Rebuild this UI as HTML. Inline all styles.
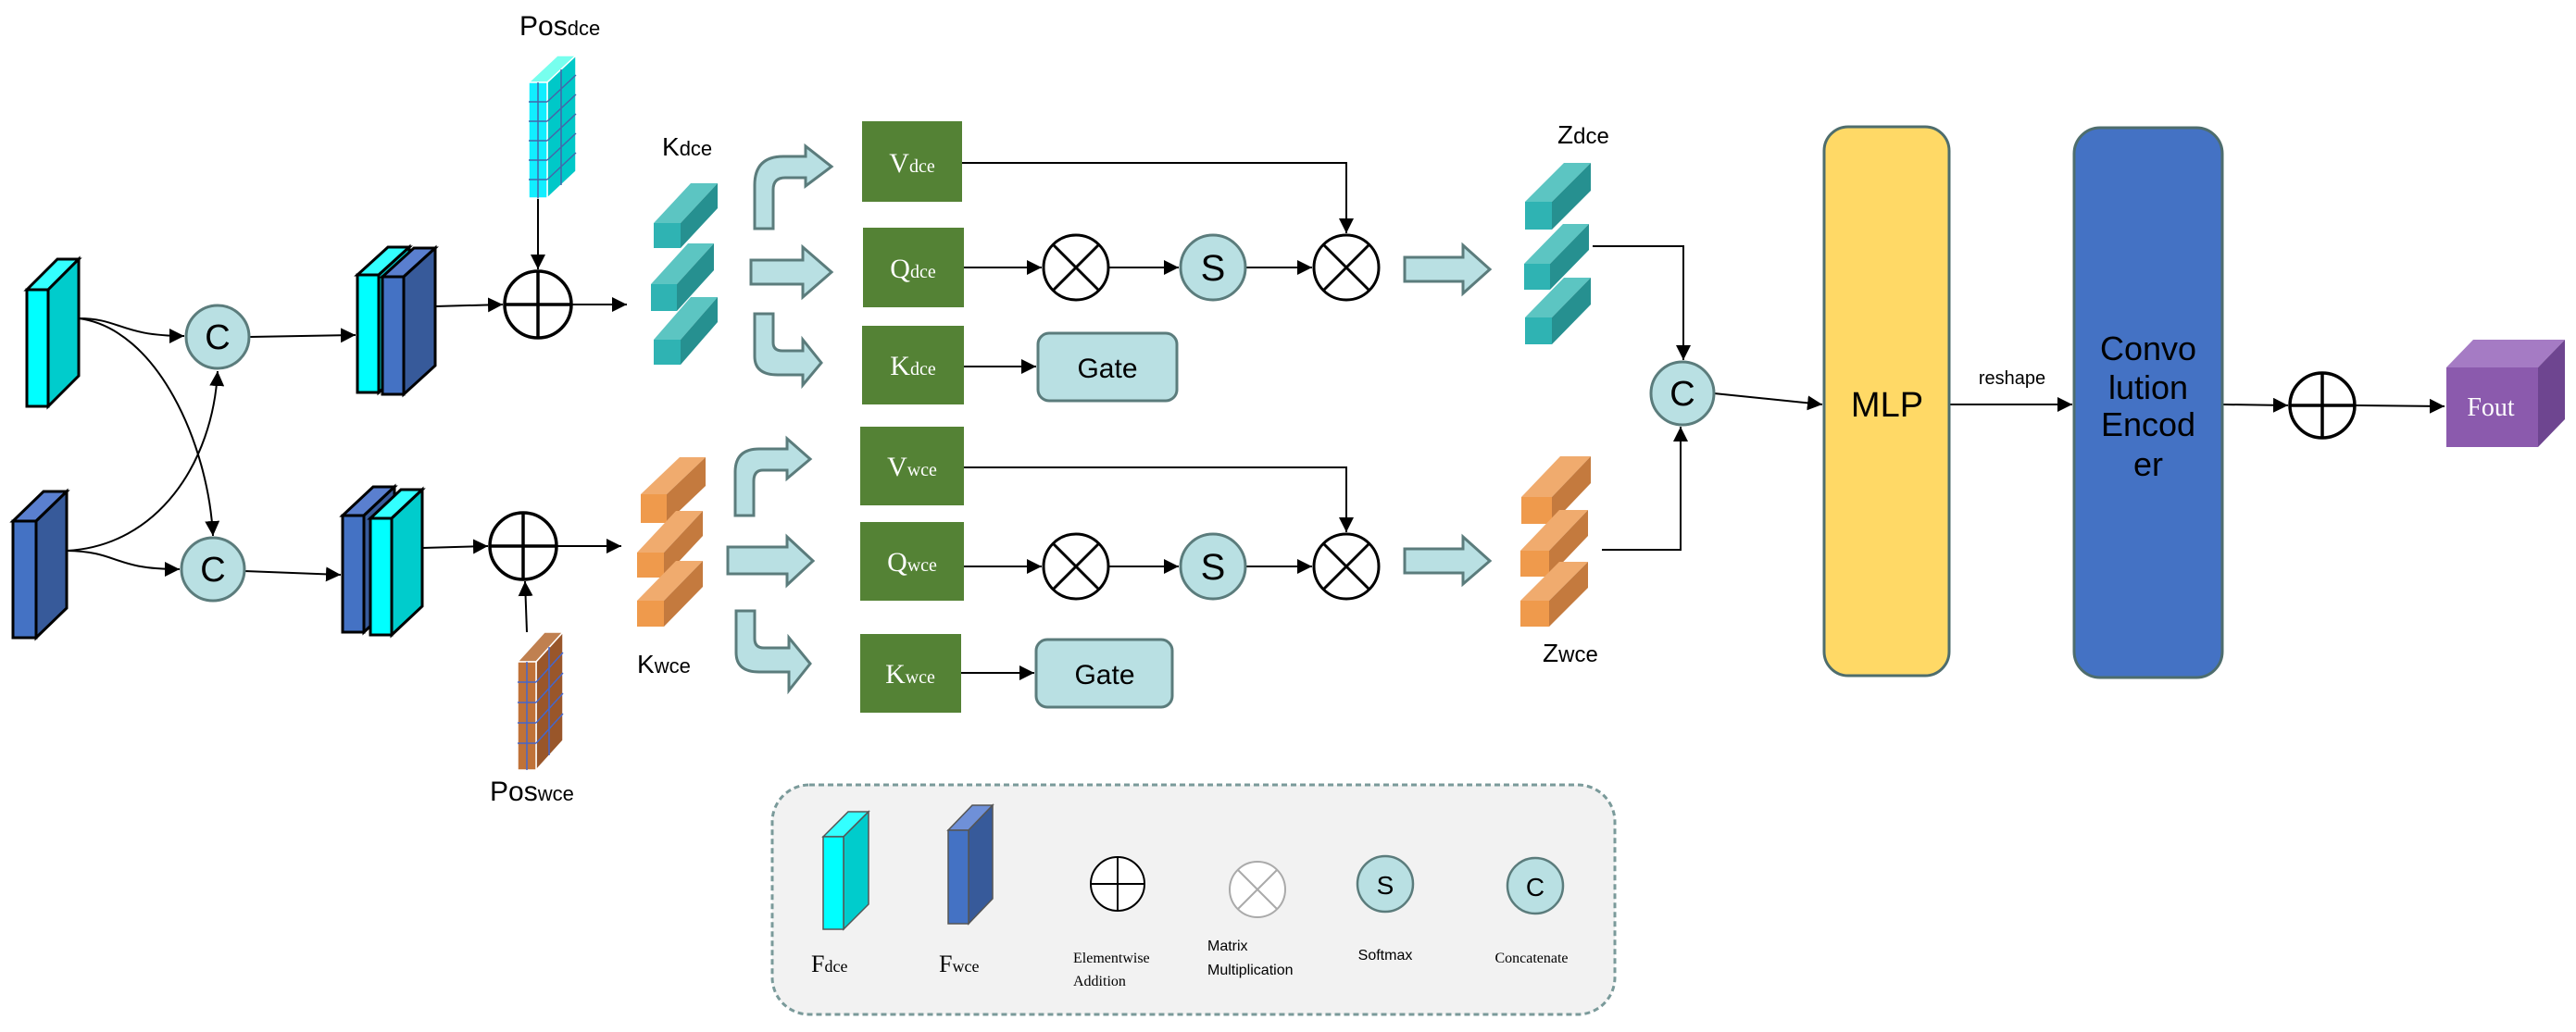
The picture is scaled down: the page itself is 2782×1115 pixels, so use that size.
<!DOCTYPE html>
<html><head><meta charset="utf-8"><style>
html,body{margin:0;padding:0;background:#fff;}
svg{display:block;}
.s{font-family:"Liberation Sans",sans-serif;}
.r{font-family:"Liberation Serif",serif;}
</style></head><body>
<svg width="2782" height="1115" viewBox="0 0 2782 1115" xmlns="http://www.w3.org/2000/svg">
<defs>
<marker id="a" viewBox="0 0 10 10" refX="10" refY="5" markerWidth="10" markerHeight="10" markerUnits="userSpaceOnUse" orient="auto"><path d="M0,0L10,5L0,10z" fill="#000"/></marker>
<marker id="b" viewBox="0 0 10 10" refX="10" refY="5" markerWidth="16" markerHeight="16" markerUnits="userSpaceOnUse" orient="auto"><path d="M0,0L10,5L0,10z" fill="#000"/></marker>
</defs>

<!-- Input blocks -->
<g stroke="#000" stroke-width="3">
<polygon points="29,313 52,313 85,280 62,280" fill="#3ff"/>
<polygon points="52,313 85,280 85,406 52,439" fill="#00cccc"/>
<rect x="29" y="313" width="23" height="126" fill="#0ff"/>
<polygon points="14,563 39,563 72,531 47,531" fill="#5a7fcf"/>
<polygon points="39,563 72,531 72,657 39,689" fill="#375a9a"/>
<rect x="14" y="563" width="25" height="126" fill="#4472c4"/>
</g>

<!-- curves -->
<g fill="none" stroke="#000" stroke-width="2">
<path d="M85,344 C130,344 130,363 199,363" marker-end="url(#b)"/>
<path d="M85,344 C170,355 225,480 230,579" marker-end="url(#b)"/>
<path d="M72,595 C170,590 230,500 235,401" marker-end="url(#b)"/>
<path d="M72,595 C130,596 120,615 194,615" marker-end="url(#b)"/>
<path d="M269,364 L384,362" marker-end="url(#b)"/>
<path d="M264,617 L368,621" marker-end="url(#b)"/>
<path d="M470,331 L543,329" marker-end="url(#b)"/>
<path d="M617,329 L677,329" marker-end="url(#b)"/>
<path d="M581,214 L581,291" marker-end="url(#b)"/>
<path d="M456,592 L527,590" marker-end="url(#b)"/>
<path d="M601,590 L671,590" marker-end="url(#b)"/>
<path d="M569,683 L567,628" marker-end="url(#b)"/>
</g>
<g fill="#b9e0e3" stroke="#5b7c7c" stroke-width="3">
<circle cx="235" cy="364" r="34"/><circle cx="230" cy="615" r="34"/>
</g>
<text x="235" y="377" class="s" font-size="38" text-anchor="middle">C</text>
<text x="230" y="628" class="s" font-size="38" text-anchor="middle">C</text>

<!-- stacked top -->
<g stroke="#000" stroke-width="3">
<polygon points="386,297 409,297 442,267 419,267" fill="#3ff"/>
<polygon points="409,297 442,267 442,394 409,424" fill="#00cccc"/>
<rect x="386" y="297" width="23" height="127" fill="#0ff"/>
<polygon points="413,299 436,299 470,268 447,268" fill="#5a7fcf"/>
<polygon points="436,299 470,268 470,395 436,426" fill="#375a9a"/>
<rect x="413" y="299" width="23" height="127" fill="#4472c4"/>
<!-- stacked bottom -->
<polygon points="370,557 393,557 426,526 403,526" fill="#5a7fcf"/>
<polygon points="393,557 426,526 426,652 393,683" fill="#375a9a"/>
<rect x="370" y="557" width="23" height="126" fill="#4472c4"/>
<polygon points="400,560 423,560 456,529 433,529" fill="#3ff"/>
<polygon points="423,560 456,529 456,655 423,686" fill="#00cccc"/>
<rect x="400" y="560" width="23" height="126" fill="#0ff"/>
</g>

<!-- plus circles -->
<g fill="#fff" stroke="#000" stroke-width="3.5">
<circle cx="581" cy="329" r="36"/><path d="M545,329H617M581,293V365"/>
<circle cx="565" cy="590" r="36"/><path d="M529,590H601M565,554V626"/>
</g>

<!-- Pos dce -->
<g stroke-width="1.5">
<polygon points="571,89 591,89 622,60 602,60" fill="#7fe" stroke="#fff"/>
<polygon points="591,89 622,60 622,185 591,214" fill="#00c8c8" stroke="#fff"/>
<rect x="571" y="89" width="20" height="125" fill="#1ef" stroke="#fff"/>
<g stroke="#4466aa"><path d="M581,89V214M571,110H591M571,131H591M571,152H591M571,173H591M571,194H591M606,75V200M591,110L622,81M591,131L622,102M591,152L622,123M591,173L622,144M591,194L622,165"/></g>
</g>
<text x="561" y="38" class="s" font-size="30">Pos<tspan font-size="22">dce</tspan></text>
<!-- Pos wce -->
<g stroke-width="1.5">
<polygon points="559,715 579,715 608,683 588,683" fill="#c08050" stroke="#fff"/>
<polygon points="579,715 608,683 608,800 579,832" fill="#99562a" stroke="#fff"/>
<rect x="559" y="715" width="20" height="117" fill="#c07238" stroke="#fff"/>
<g stroke="#4466cc"><path d="M569,715V832M559,737H579M559,759H579M559,781H579M559,803H579M593,699V816M579,737L608,705M579,759L608,727M579,781L608,749M579,803L608,771"/></g>
</g>
<text x="529" y="865" class="s" font-size="30">Pos<tspan font-size="22">wce</tspan></text>

<!-- K dce bars -->
<g>
<polygon points="706,241 735,241 775,198 746,198" fill="#5cc5c2"/><polygon points="735,241 775,198 775,225 735,268" fill="#269090"/><rect x="706" y="241" width="29" height="27" fill="#2fb3b3"/>
<polygon points="703,307 731,307 771,263 743,263" fill="#5cc5c2"/><polygon points="731,307 771,263 771,292 731,336" fill="#269090"/><rect x="703" y="307" width="28" height="29" fill="#2fb3b3"/>
<polygon points="706,367 735,367 775,321 746,321" fill="#5cc5c2"/><polygon points="735,367 775,321 775,348 735,394" fill="#269090"/><rect x="706" y="367" width="29" height="27" fill="#2fb3b3"/>
</g>
<text x="715" y="168" class="s" font-size="28">K<tspan font-size="22">dce</tspan></text>
<!-- K wce bars -->
<g>
<polygon points="692,534 720,534 762,494 734,494" fill="#f0ab6e"/><polygon points="720,534 762,494 762,525 720,565" fill="#c47a3e"/><rect x="692" y="534" width="28" height="31" fill="#ef9a4c"/>
<polygon points="688,597 717,597 759,552 730,552" fill="#f0ab6e"/><polygon points="717,597 759,552 759,579 717,624" fill="#c47a3e"/><rect x="688" y="597" width="29" height="27" fill="#ef9a4c"/>
<polygon points="688,649 717,649 759,606 730,606" fill="#f0ab6e"/><polygon points="717,649 759,606 759,634 717,677" fill="#c47a3e"/><rect x="688" y="649" width="29" height="28" fill="#ef9a4c"/>
</g>
<text x="688" y="727" class="s" font-size="28">K<tspan font-size="22">wce</tspan></text>

<!-- block arrows -->
<g fill="#b9e0e3" stroke="#5b7c7c" stroke-width="3" stroke-linejoin="miter">
<path d="M815,247 V200 Q815,169 846,169 H870 V158 L898,180 L870,201 V192 H848 Q835,192 835,205 V247 Z"/>
<path d="M811,281 H867 V267 L898,294 L867,321 V307 H811 Z"/>
<path d="M815,339 V385 Q815,405 840,405 H867 V416 L887,392 L867,367 V379 H845 Q835,379 835,370 V339 Z"/>
<path d="M794,557 V510 Q794,485 820,485 H850 V474 L875,496 L850,517 V508 H824 Q814,508 814,520 V557 Z"/>
<path d="M786,591 H850 V580 L878,606 L850,632 V620 H786 Z"/>
<path d="M795,660 V705 Q795,726 820,726 H852 V746 L875,717 L852,689 V700 H825 Q815,700 815,690 V660 Z"/>
<path d="M1517,278 H1580 V265 L1609,291 L1580,317 V304 H1517 Z"/>
<path d="M1517,593 H1580 V580 L1609,606 L1580,631 V619 H1517 Z"/>
</g>

<!-- green boxes -->
<g fill="#548235">
<rect x="931" y="131" width="108" height="87"/><rect x="932" y="246" width="109" height="86"/><rect x="931" y="352" width="110" height="85"/>
<rect x="929" y="461" width="112" height="85"/><rect x="929" y="564" width="112" height="85"/><rect x="929" y="685" width="109" height="85"/>
</g>
<g class="r" fill="#fff" text-anchor="middle" font-size="30">
<text x="985" y="186">V<tspan font-size="20">dce</tspan></text>
<text x="986" y="300">Q<tspan font-size="20">dce</tspan></text>
<text x="986" y="405">K<tspan font-size="20">dce</tspan></text>
<text x="985" y="514">V<tspan font-size="20">wce</tspan></text>
<text x="985" y="617">Q<tspan font-size="20">wce</tspan></text>
<text x="983" y="738">K<tspan font-size="20">wce</tspan></text>
</g>

<!-- gates -->
<g fill="#b9e0e3" stroke="#5b7c7c" stroke-width="3">
<rect x="1121" y="360" width="150" height="73" rx="12"/>
<rect x="1119" y="691" width="147" height="73" rx="12"/>
</g>
<text x="1196" y="408" class="s" font-size="30" text-anchor="middle">Gate</text>
<text x="1193" y="739" class="s" font-size="30" text-anchor="middle">Gate</text>

<!-- attention lines -->
<g fill="none" stroke="#000" stroke-width="2">
<path d="M1041,289 H1125" marker-end="url(#b)"/>
<path d="M1197,289 H1273" marker-end="url(#b)"/>
<path d="M1345,289 H1417" marker-end="url(#b)"/>
<path d="M1039,176 H1454 V252" marker-end="url(#b)"/>
<path d="M1041,396 H1119" marker-end="url(#b)"/>
<path d="M1041,612 H1125" marker-end="url(#b)"/>
<path d="M1197,612 H1273" marker-end="url(#b)"/>
<path d="M1345,612 H1417" marker-end="url(#b)"/>
<path d="M1041,505 H1454 V575" marker-end="url(#b)"/>
<path d="M1038,727 H1117" marker-end="url(#b)"/>
</g>
<g fill="#fff" stroke="#000" stroke-width="3">
<circle cx="1162" cy="289" r="35"/><path d="M1137,264L1187,314M1187,264L1137,314"/>
<circle cx="1454" cy="289" r="35"/><path d="M1429,264L1479,314M1479,264L1429,314"/>
<circle cx="1162" cy="612" r="35"/><path d="M1137,587L1187,637M1187,587L1137,637"/>
<circle cx="1454" cy="612" r="35"/><path d="M1429,587L1479,637M1479,587L1429,637"/>
</g>
<g fill="#b9e0e3" stroke="#5b7c7c" stroke-width="3">
<circle cx="1310" cy="289" r="35"/><circle cx="1310" cy="612" r="35"/>
</g>
<text x="1310" y="303" class="s" font-size="40" text-anchor="middle">S</text>
<text x="1310" y="626" class="s" font-size="40" text-anchor="middle">S</text>

<!-- Z dce bars -->
<g>
<polygon points="1647,218 1676,218 1718,176 1689,176" fill="#5cc5c2"/><polygon points="1676,218 1718,176 1718,206 1676,248" fill="#269090"/><rect x="1647" y="218" width="29" height="30" fill="#2fb3b3"/>
<polygon points="1646,285 1674,285 1716,242 1688,242" fill="#5cc5c2"/><polygon points="1674,285 1716,242 1716,270 1674,313" fill="#269090"/><rect x="1646" y="285" width="28" height="28" fill="#2fb3b3"/>
<polygon points="1647,343 1676,343 1718,300 1689,300" fill="#5cc5c2"/><polygon points="1676,343 1718,300 1718,329 1676,372" fill="#269090"/><rect x="1647" y="343" width="29" height="29" fill="#2fb3b3"/>
</g>
<text x="1682" y="155" class="s" font-size="28">Z<tspan font-size="24">dce</tspan></text>
<g>
<polygon points="1643,537 1676,537 1718,493 1685,493" fill="#f0ab6e"/><polygon points="1676,537 1718,493 1718,522 1676,566" fill="#c47a3e"/><rect x="1643" y="537" width="33" height="29" fill="#ef9a4c"/>
<polygon points="1642,595 1673,595 1715,551 1684,551" fill="#f0ab6e"/><polygon points="1673,595 1715,551 1715,579 1673,623" fill="#c47a3e"/><rect x="1642" y="595" width="31" height="28" fill="#ef9a4c"/>
<polygon points="1642,649 1673,649 1715,607 1684,607" fill="#f0ab6e"/><polygon points="1673,649 1715,607 1715,635 1673,677" fill="#c47a3e"/><rect x="1642" y="649" width="31" height="28" fill="#ef9a4c"/>
</g>
<text x="1666" y="715" class="s" font-size="28">Z<tspan font-size="24">wce</tspan></text>

<g fill="none" stroke="#000" stroke-width="2">
<path d="M1720,266 H1818 V389" marker-end="url(#b)"/>
<path d="M1730,594 H1815 V461" marker-end="url(#b)"/>
<path d="M1851,425 L1968,437" marker-end="url(#b)"/>
<path d="M2105,437 H2238" marker-end="url(#b)"/>
<path d="M2400,437 L2471,438" marker-end="url(#b)"/>
<path d="M2543,438 L2640,439" marker-end="url(#b)"/>
</g>
<circle cx="1817" cy="425" r="34" fill="#b9e0e3" stroke="#5b7c7c" stroke-width="3"/>
<text x="1817" y="438" class="s" font-size="38" text-anchor="middle">C</text>

<rect x="1970" y="137" width="135" height="593" rx="26" fill="#ffd966" stroke="#4e6d6d" stroke-width="3"/>
<text x="2038" y="450" class="s" font-size="38" text-anchor="middle">MLP</text>
<text x="2173" y="415" class="s" font-size="20" text-anchor="middle">reshape</text>
<rect x="2240" y="138" width="160" height="594" rx="28" fill="#4472c4" stroke="#4e6d6d" stroke-width="3"/>
<g class="s" font-size="36" text-anchor="middle">
<text x="2320" y="389">Convo</text><text x="2320" y="431">lution</text><text x="2320" y="471">Encod</text><text x="2320" y="514">er</text>
</g>
<g fill="#fff" stroke="#000" stroke-width="3.5">
<circle cx="2508" cy="438" r="35"/><path d="M2473,438H2543M2508,403V473"/>
</g>
<polygon points="2642,397 2741,397 2770,367 2671,367" fill="#a57bc4"/>
<polygon points="2741,397 2770,367 2770,453 2741,483" fill="#6e4590"/>
<rect x="2642" y="397" width="99" height="86" fill="#8b5aad"/>
<text x="2690" y="449" class="r" font-size="28" fill="#fff" text-anchor="middle">Fout</text>

<!-- legend -->
<rect x="834" y="848" width="910" height="248" rx="40" fill="#f2f2f2" stroke="#7a9a9a" stroke-width="3" stroke-dasharray="6,4"/>
<g stroke="#555" stroke-width="1.5">
<polygon points="889,904 911,904 938,877 916,877" fill="#3ff"/>
<polygon points="911,904 938,877 938,977 911,1004" fill="#00cccc"/>
<rect x="889" y="904" width="22" height="100" fill="#0ff"/>
<polygon points="1024,897 1046,897 1072,870 1050,870" fill="#6f90d8"/>
<polygon points="1046,897 1072,870 1072,971 1046,998" fill="#375a9a"/>
<rect x="1024" y="897" width="22" height="101" fill="#4472c4"/>
</g>
<text x="876" y="1050" class="r" font-size="26">F<tspan font-size="18">dce</tspan></text>
<text x="1014" y="1050" class="r" font-size="26">F<tspan font-size="18">wce</tspan></text>
<g fill="#fff" stroke="#000" stroke-width="2">
<circle cx="1207" cy="955" r="29"/><path d="M1178,955H1236M1207,926V984"/>
</g>
<g fill="#fff" stroke="#aaa" stroke-width="2">
<circle cx="1358" cy="961" r="30"/><path d="M1337,940L1379,982M1379,940L1337,982"/>
</g>
<g fill="#b9e0e3" stroke="#5b7c7c" stroke-width="2.5">
<circle cx="1496" cy="955" r="30"/><circle cx="1658" cy="957" r="30"/>
</g>
<text x="1496" y="966" class="s" font-size="28" text-anchor="middle">S</text>
<text x="1658" y="968" class="s" font-size="28" text-anchor="middle">C</text>
<g class="r" font-size="16">
<text x="1159" y="1040">Elementwise</text><text x="1159" y="1065">Addition</text>
</g>
<g class="s" font-size="16">
<text x="1304" y="1027">Matrix</text><text x="1304" y="1053">Multiplication</text>
<text x="1496" y="1037" text-anchor="middle">Softmax</text>
<text x="1654" y="1040" text-anchor="middle" class="r">Concatenate</text>
</g>
</svg>
</body></html>
